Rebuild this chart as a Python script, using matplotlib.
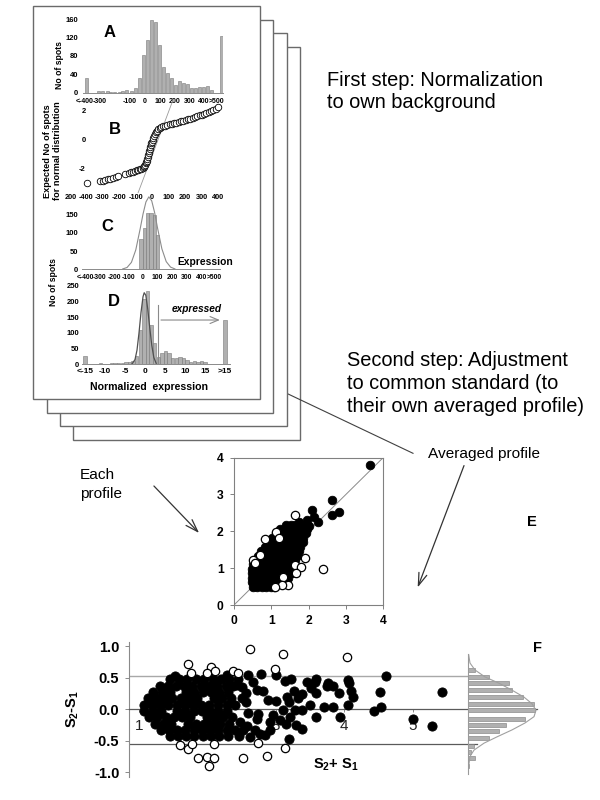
import matplotlib
matplotlib.use('Agg')
import matplotlib.pyplot as plt
from matplotlib.patches import Rectangle
from matplotlib.ticker import FormatStrFormatter

plt.rcParams['font.family'] = ['Liberation Sans', 'DejaVu Sans']
plt.rcParams['axes.unicode_minus'] = False
plt.rcParams['mathtext.default'] = 'regular'

# ---------------- data ----------------
# Panel A: raw expression histogram
a_x = [-393, -307, -280, -253, -227, -200, -173, -147, -120, -93, -64, -38, -11, 16, 42, 69, 96,
       122, 149, 176, 202, 229, 256, 282, 309, 336, 362, 389, 416, 442, 511]
a_h = [33, 4, 3, 4, 2, 2, 2, 4, 6, 4, 10, 32, 82, 115, 158, 154, 105, 55, 44, 31, 17, 26, 22, 19,
       10, 11, 12, 13, 14, 6, 124]
a_ticks = [-400, -300, -100, 0, 100, 200, 300, 390, 480]
a_ticklabels = ['<-400', '-300', '-100', '0', '100', '200', '300', '400', '>500']

# Panel B: normal probability plot
b_x = [-395, -318, -300, -285, -268, -252, -236, -220, -205, -165, -140, -128, -115, -103, -92, -82,
       -72, -64, -57, -51, -46, -42, -38, -35, -32, -29, -26, -23, -20, -17, -14, -11, -8, -5, -1,
       3, 7, 12, 17, 23, 30, 38, 47, 57, 68, 80, 93, 106, 120, 134, 148, 162, 176, 190, 204, 218,
       232, 246, 260, 274, 288, 302, 316, 330, 344, 358, 372, 386, 400]
b_y = [-2.95, -2.83, -2.80, -2.76, -2.72, -2.68, -2.62, -2.57, -2.50, -2.33, -2.25, -2.21, -2.18,
       -2.14, -2.10, -2.06, -2.02, -1.98, -1.93, -1.87, -1.80, -1.72, -1.62, -1.52, -1.42, -1.30,
       -1.18, -1.05, -0.92, -0.78, -0.64, -0.50, -0.37, -0.24, -0.11, 0.02, 0.15, 0.28, 0.40, 0.52,
       0.63, 0.73, 0.81, 0.88, 0.94, 0.99, 1.03, 1.07, 1.12, 1.16, 1.20, 1.24, 1.28, 1.33, 1.38,
       1.43, 1.48, 1.53, 1.58, 1.63, 1.69, 1.74, 1.80, 1.86, 1.93, 1.99, 2.06, 2.14, 2.25]
b_ref_x = [-85, 127]
b_ref_y = [-3.66, 2.76]
b_ticks = [-490, -400, -300, -200, -100, 0, 100, 200, 300, 400]
b_ticklabels = ['200', '-400', '-300', '-200', '-100', '0', '100', '200', '300', '400']

# Panel C: background histogram with normal fit
c_x = [-14, 9, 32, 55, 78, 101]
c_h = [83, 114, 155, 155, 148, 95]
c_curve_x = [-140, -110, -80, -50, -20, 0, 20, 40, 60, 80, 100, 130, 160, 190, 220]
c_curve_y = [1, 5, 19, 53, 110, 151, 184, 198, 187, 155, 113, 56, 21, 6, 1]
c_ticks = [-400, -300, -200, -100, 0, 100, 200, 300, 400, 490]
c_ticklabels = ['<-400', '-300', '-200', '-100', '0', '100', '200', '300', '400', '>500']

# Panel D: normalized expression histogram
d_x = [-15, -13.8, -12.9, -12.0, -11.1, -10.2, -9.3, -8.4, -7.5, -6.6, -5.7, -4.8, -3.9, -3.0,
       -2.1, -1.2, -0.3, 0.6, 1.5, 2.4, 3.3, 4.2, 5.1, 6.0, 6.9, 7.8, 8.7, 9.6, 10.5, 11.4, 12.3,
       13.2, 14.1, 15.0, 20]
d_h = [28, 2, 1, 0, 3, 2, 2, 3, 4, 4, 5, 6, 8, 10, 28, 109, 207, 232, 125, 69, 24, 35, 42, 35, 20,
       19, 24, 19, 14, 8, 12, 8, 11, 6, 140]
d_curve_x = [-3.2, -2.5, -2.0, -1.5, -1.0, -0.5, -0.2, 0.2, 0.7, 1.2, 1.7, 2.2, 2.8]
d_curve_y = [2, 15, 45, 100, 165, 215, 228, 220, 175, 115, 60, 22, 3]
d_threshold = 3.3
d_ticks = [-15, -10, -5, 0, 5, 10, 15, 20]
d_ticklabels = ['<-15', '-10', '-5', '0', '5', '10', '15', '>15']

# Panel E: each profile vs averaged profile
e_fill_x = [0.50, 0.62, 0.74, 0.86, 0.98, 1.06,
            0.48, 0.60, 0.72, 0.84, 0.96, 1.08, 1.20, 1.30,
            0.48, 0.60, 0.72, 0.84, 0.96, 1.08, 1.20, 1.32, 1.44,
            0.48, 0.60, 0.72, 0.84, 0.96, 1.08, 1.20, 1.32, 1.44, 1.56,
            0.48, 0.60, 0.72, 0.84, 0.96, 1.08, 1.20, 1.32, 1.44, 1.56,
            0.50, 0.62, 0.74, 0.86, 0.98, 1.10, 1.22, 1.34, 1.46, 1.58,
            0.56, 0.68, 0.80, 0.92, 1.04, 1.16, 1.28, 1.40, 1.52, 1.64,
            0.64, 0.76, 0.88, 1.00, 1.12, 1.24, 1.36, 1.48, 1.60, 1.70,
            0.72, 0.84, 0.96, 1.08, 1.20, 1.32, 1.44, 1.56, 1.68, 1.74,
            0.82, 0.94, 1.06, 1.18, 1.30, 1.42, 1.54, 1.66, 1.78,
            0.92, 1.04, 1.16, 1.28, 1.40, 1.52, 1.64, 1.76, 1.85,
            1.02, 1.14, 1.26, 1.38, 1.50, 1.62, 1.74, 1.86,
            1.12, 1.24, 1.36, 1.48, 1.60, 1.72, 1.84, 1.92,
            1.24, 1.36, 1.48, 1.60, 1.72, 1.84, 1.95,
            1.40, 1.52, 1.64, 1.76, 1.86,
            3.65, 2.62, 2.62, 2.82, 2.08, 2.13, 2.26, 1.95, 1.75, 2.00]
e_fill_y = [0.50, 0.50, 0.50, 0.50, 0.50, 0.50,
            0.62, 0.62, 0.62, 0.62, 0.62, 0.62, 0.62, 0.62,
            0.74, 0.74, 0.74, 0.74, 0.74, 0.74, 0.74, 0.74, 0.74,
            0.86, 0.86, 0.86, 0.86, 0.86, 0.86, 0.86, 0.86, 0.86, 0.86,
            0.98, 0.98, 0.98, 0.98, 0.98, 0.98, 0.98, 0.98, 0.98, 0.98,
            1.10, 1.10, 1.10, 1.10, 1.10, 1.10, 1.10, 1.10, 1.10, 1.10,
            1.22, 1.22, 1.22, 1.22, 1.22, 1.22, 1.22, 1.22, 1.22, 1.22,
            1.34, 1.34, 1.34, 1.34, 1.34, 1.34, 1.34, 1.34, 1.34, 1.34,
            1.46, 1.46, 1.46, 1.46, 1.46, 1.46, 1.46, 1.46, 1.46, 1.46,
            1.58, 1.58, 1.58, 1.58, 1.58, 1.58, 1.58, 1.58, 1.58,
            1.70, 1.70, 1.70, 1.70, 1.70, 1.70, 1.70, 1.70, 1.70,
            1.82, 1.82, 1.82, 1.82, 1.82, 1.82, 1.82, 1.82,
            1.94, 1.94, 1.94, 1.94, 1.94, 1.94, 1.94, 1.94,
            2.06, 2.06, 2.06, 2.06, 2.06, 2.06, 2.06,
            2.18, 2.18, 2.18, 2.18, 2.18,
            3.79, 2.86, 2.44, 2.53, 2.57, 2.39, 2.26, 2.30, 2.25, 2.15]
e_open_x = [1.635, 1.126, 0.84, 1.20, 0.50, 0.70, 0.56, 1.90, 1.635, 1.79, 1.66, 2.39, 1.32, 1.46,
            1.28, 1.10]
e_open_y = [2.44, 1.99, 1.80, 1.83, 1.22, 1.355, 1.13, 1.265, 1.08, 1.04, 0.86, 0.97, 0.77, 0.54,
            0.54, 0.50]
e_diag = [0, 4]
e_ticks = [0, 1, 2, 3, 4]

# Panel F: difference vs sum
f_fill_x = [1.46, 1.58, 1.70, 1.83, 1.95, 2.08, 2.20, 2.32,
            1.30, 1.42, 1.54, 1.66, 1.78, 1.90, 2.02, 2.14, 2.27, 2.38,
            1.21, 1.33, 1.45, 1.69, 1.81, 1.93, 2.05, 2.17, 2.30,
            1.13, 1.25, 1.37, 1.49, 1.61, 1.73, 1.85, 2.09, 2.21, 2.34,
            1.07, 1.19, 1.31, 1.43, 1.55, 1.67, 1.79, 1.91, 2.03, 2.15, 2.28, 2.40,
            1.08, 1.20, 1.32, 1.56, 1.68, 1.80, 1.92, 2.04, 2.16, 2.29,
            1.15, 1.27, 1.39, 1.51, 1.63, 1.75, 1.99, 2.11, 2.23, 2.36,
            1.23, 1.35, 1.47, 1.71, 1.83, 1.95, 2.07, 2.19, 2.31,
            1.32, 1.44, 1.56, 1.68, 1.80, 1.92, 2.04, 2.16, 2.28, 2.40,
            1.45, 1.57, 1.69, 1.81, 1.93, 2.05, 2.17, 2.30,
            1.53, 2.28, 2.45, 2.60, 2.79, 3.00, 3.13, 3.23, 2.67, 2.72, 2.82, 2.89, 3.00, 3.26,
            3.16, 3.19, 3.33, 3.11, 3.28, 2.74, 2.72, 2.96, 2.92, 3.06, 3.15, 3.21, 3.30, 3.19,
            2.92, 2.77, 2.70, 2.84, 2.60, 2.56, 2.50, 2.57, 2.50, 2.43, 2.48, 2.52, 2.58, 2.46,
            2.62,
            3.39, 3.38, 3.50, 3.39, 3.46, 3.52, 3.57, 3.59, 3.59, 3.59, 3.70, 3.75, 3.77, 3.84,
            3.84, 3.92, 3.94, 4.05, 4.06, 4.07, 4.10, 4.13, 4.44, 4.53, 4.54, 4.61, 5.00, 5.29,
            5.43]
f_fill_y = [0.47, 0.47, 0.47, 0.47, 0.47, 0.47, 0.47, 0.47,
            0.37, 0.37, 0.37, 0.37, 0.37, 0.37, 0.37, 0.37, 0.37, 0.37,
            0.27, 0.27, 0.27, 0.27, 0.27, 0.27, 0.27, 0.27, 0.27,
            0.17, 0.17, 0.17, 0.17, 0.17, 0.17, 0.17, 0.17, 0.17, 0.17,
            0.07, 0.07, 0.07, 0.07, 0.07, 0.07, 0.07, 0.07, 0.07, 0.07, 0.07, 0.07,
            -0.03, -0.03, -0.03, -0.03, -0.03, -0.03, -0.03, -0.03, -0.03, -0.03,
            -0.13, -0.13, -0.13, -0.13, -0.13, -0.13, -0.13, -0.13, -0.13, -0.13,
            -0.23, -0.23, -0.23, -0.23, -0.23, -0.23, -0.23, -0.23, -0.23,
            -0.33, -0.33, -0.33, -0.33, -0.33, -0.33, -0.33, -0.33, -0.33, -0.33,
            -0.43, -0.43, -0.43, -0.43, -0.43, -0.43, -0.43, -0.43,
            0.52, 0.54, 0.47, 0.54, 0.55, 0.54, 0.45, 0.47, 0.43, 0.30, 0.29, 0.14, 0.13, 0.29,
            0.19, 0.12, 0.17, -0.01, -0.01, -0.08, -0.15, -0.09, -0.20, -0.17, -0.24, -0.12, -0.25,
            -0.48, -0.33, -0.39, -0.33, -0.41, -0.06, 0.11, 0.18, 0.25, 0.35, 0.38, -0.20, -0.33,
            -0.26, -0.42, -0.45,
            0.24, -0.01, 0.06, -0.32, 0.43, 0.33, 0.43, 0.47, 0.26, -0.12, 0.04, 0.37, 0.42, 0.36,
            0.04, 0.25, -0.13, 0.06, 0.46, 0.41, 0.29, 0.19, -0.03, 0.27, 0.04, 0.52, -0.16, -0.27,
            0.27]
f_open_x = [1.72, 1.76, 2.05, 1.99, 2.11, 2.63, 2.37, 2.45, 3.10, 2.99, 1.60, 1.72, 1.77, 1.86,
            1.99, 2.03, 2.10, 2.09, 2.52, 2.74, 2.87, 3.14, 4.04]
f_open_y = [0.71, 0.58, 0.67, 0.58, 0.60, 0.95, 0.61, 0.58, 0.88, 0.63, -0.57, -0.64, -0.55, -0.78,
            -0.76, -0.90, -0.78, -0.56, -0.78, -0.53, -0.74, -0.62, 0.82]
f_upper = 0.52
f_lower = -0.56
f_ticks_x = [1, 2, 3, 4, 5]
f_ticks_y = [-1.0, -0.5, 0.0, 0.5, 1.0]
f_hist_y = [0.62, 0.51, 0.41, 0.30, 0.195, 0.08, -0.016, -0.15, -0.25, -0.35, -0.455, -0.58,
            -0.68, -0.77, -0.90]
f_hist_n = [7, 21, 41, 44, 55, 66, 67, 57, 38, 31, 21, 6, 3, 7, 1]
f_curve_y = [0.86, 0.73, 0.62, 0.51, 0.41, 0.30, 0.19, 0.085, -0.02, -0.12, -0.22, -0.33, -0.44,
             -0.54, -0.65, -0.75, -0.90]
f_curve_n = [0.7, 2, 7, 17, 31, 44, 56, 64, 68, 66, 57, 44, 29, 16, 6, 2, 0.7]

# ---------------- layout helpers ----------------
W, H = 600, 800
fig = plt.figure(figsize=(6, 8), dpi=100, facecolor='white')


def ax_px(x0, y0, x1, y1, z=5):
    a = fig.add_axes([x0 / W, 1 - y1 / H, (x1 - x0) / W, (y1 - y0) / H], zorder=z)
    a.set_facecolor('none')
    return a


BAR_FC = '#b0b0b0'
BAR_EC = '#787878'

# ---------------- background: stacked pages, texts, arrows ----------------
bg = fig.add_axes([0, 0, 1, 1], zorder=0)
bg.set_xlim(0, W)
bg.set_ylim(H, 0)
bg.axis('off')
pages = [(73, 47, 300, 440), (60, 33, 287, 426), (47, 20, 273, 413), (33, 6, 260, 399)]
for i, (x0, y0, x1, y1) in enumerate(pages):
    bg.add_patch(Rectangle((x0, y0), x1 - x0, y1 - y0, facecolor='white',
                           edgecolor='#6a6a6a', lw=1.0, zorder=1 + i))
    if i == 0:
        bg.plot([270, 413], [385.4, 453.3], color='#404040', lw=0.8, zorder=1.5)

BIG = 14.4
bg.text(326.7, 80, 'First step: Normalization', fontsize=BIG, va='center', ha='left')
bg.text(326.7, 103, 'to own background', fontsize=BIG, va='center', ha='left')
bg.text(346.7, 360, 'Second step: Adjustment', fontsize=BIG, va='center', ha='left')
bg.text(346.7, 383.3, 'to common standard (to', fontsize=BIG, va='center', ha='left')
bg.text(346.7, 406.7, 'their own averaged profile)', fontsize=BIG, va='center', ha='left')
bg.text(428, 454, 'Averaged profile', fontsize=11.1, va='center', ha='left')
bg.text(80, 475, 'Each', fontsize=11.1, va='center', ha='left')
bg.text(80, 494, 'profile', fontsize=11.1, va='center', ha='left')
bg.annotate('', xy=(416.7, 590), xytext=(465, 463),
            arrowprops=dict(arrowstyle='->,head_length=0.9,head_width=0.3', color='#333333', lw=0.9))
bg.annotate('', xy=(201, 535), xytext=(152, 484),
            arrowprops=dict(arrowstyle='->,head_length=0.9,head_width=0.3', color='#333333', lw=0.9))

for lab, (x, y) in zip('ABCD', [(109.7, 32.5), (115, 129), (107.5, 226.7), (114, 301.7)]):
    bg.text(x, y, lab, fontsize=12, fontweight='bold', ha='center', va='center', zorder=10)
bg.text(60, 65, 'No of spots', fontsize=6.2, fontweight='bold', rotation=90, ha='center',
        va='center', zorder=10)
bg.text(48, 151, 'Expected No of spots', fontsize=6.6, fontweight='bold', rotation=90,
        ha='center', va='center', zorder=10)
bg.text(58, 151, 'for normal distribution', fontsize=6.6, fontweight='bold', rotation=90,
        ha='center', va='center', zorder=10)
bg.text(53, 282, 'No of spots', fontsize=6.2, fontweight='bold', rotation=90, ha='center',
        va='center', zorder=10)
bg.text(233, 262, 'Expression', fontsize=7.4, fontweight='bold', ha='right', va='center', zorder=10)
bg.text(172, 309.3, 'expressed', fontsize=7.3, fontweight='bold', style='italic', ha='left',
        va='center', zorder=10)
bg.text(148.5, 387, 'Normalized  expression', fontsize=7.6, fontweight='bold', ha='center',
        va='center', zorder=10)
bg.text(531.7, 521.7, 'E', fontsize=10.5, fontweight='bold', ha='center', va='center')
bg.text(537.3, 648.3, 'F', fontsize=10.5, fontweight='bold', ha='center', va='center')
bg.text(73, 709, 'S$_2$-S$_1$', fontsize=10.5, fontweight='bold', rotation=90, ha='center',
        va='center')
bg.text(336, 765, 'S$_2$+ S$_1$', fontsize=10.5, fontweight='bold', ha='center', va='center')


def small_style(ax, size=5.3):
    for s in ['top', 'right', 'left']:
        ax.spines[s].set_visible(False)
    ax.spines['bottom'].set_color('#8a8a8a')
    ax.spines['bottom'].set_linewidth(0.7)
    ax.tick_params(axis='both', length=0, labelsize=size)
    for t in ax.get_xticklabels() + ax.get_yticklabels():
        t.set_fontweight('bold')


# ---------------- Panel A ----------------
axA = ax_px(83, 19.3, 223, 92.7)
axA.bar(a_x, a_h, width=20, color=BAR_FC, edgecolor=BAR_EC, linewidth=0.4)
axA.set_xlim(-413, 520)
axA.set_ylim(0, 160)
axA.set_yticks([0, 40, 80, 120, 160])
axA.set_xticks(a_ticks)
axA.set_xticklabels(a_ticklabels)
small_style(axA, 5.0)
axA.tick_params(axis='y', labelsize=5.5, pad=3.4)
axA.tick_params(axis='x', pad=3.5)

# ---------------- Panel B ----------------
axB = ax_px(69.5, 99.4, 223, 192.9)
axB.plot(b_ref_x, b_ref_y, color='#9a9a9a', lw=0.6, zorder=1)
axB.scatter(b_x, b_y, s=22, facecolors='white', edgecolors='black', linewidths=0.6, zorder=2)
axB.set_xlim(-500, 430)
axB.set_ylim(-3.65, 2.8)
axB.set_xticks(b_ticks)
axB.set_xticklabels(b_ticklabels)
axB.set_yticks([-2, 0, 2])
for s in ['top', 'right', 'bottom']:
    axB.spines[s].set_visible(False)
axB.spines['left'].set_position(('data', -390))
axB.spines['left'].set_color('none')
axB.tick_params(axis='both', length=0, labelsize=5.3)
axB.tick_params(axis='x', pad=0.8)
axB.tick_params(axis='y', pad=1.5, labelsize=5.5)
for t in axB.get_xticklabels() + axB.get_yticklabels():
    t.set_fontweight('bold')

# ---------------- Panel C ----------------
axC = ax_px(82, 196.1, 220, 269.3)
axC.bar(c_x, c_h, width=22, color=BAR_FC, edgecolor=BAR_EC, linewidth=0.4)
axC.plot(c_curve_x, c_curve_y, color='#8c8c8c', lw=0.8)
axC.set_xlim(-421, 531)
axC.set_ylim(0, 200)
axC.set_yticks([0, 50, 100, 150])
axC.set_xticks(c_ticks)
axC.set_xticklabels(c_ticklabels)
small_style(axC, 4.9)
axC.tick_params(axis='y', labelsize=5.5, pad=2.7)
axC.tick_params(axis='x', pad=3.3)

# ---------------- Panel D ----------------
axD = ax_px(82, 285.8, 230, 364.3)
axD.bar(d_x, d_h, width=0.85, color=BAR_FC, edgecolor=BAR_EC, linewidth=0.4)
axD.plot(d_curve_x, d_curve_y, color='#505050', lw=0.9)
axD.plot([d_threshold, d_threshold], [2, 189], color='#8a8a8a', lw=0.8)
axD.annotate('', xy=(19.4, 141), xytext=(d_threshold, 141),
             arrowprops=dict(arrowstyle='->,head_length=0.6,head_width=0.25', color='#8a8a8a',
                             lw=0.8))
axD.set_xlim(-15.75, 21.25)
axD.set_ylim(0, 250)
axD.set_yticks([0, 50, 100, 150, 200, 250])
axD.set_xticks(d_ticks)
axD.set_xticklabels(d_ticklabels)
small_style(axD, 5.5)
axD.tick_params(axis='x', labelsize=6)
axD.tick_params(axis='y', pad=2)
axD.tick_params(axis='x', pad=3)

# ---------------- Panel E ----------------
axE = ax_px(234, 457.5, 383.3, 605)
axE.plot(e_diag, e_diag, color='#8a8a8a', lw=0.7, zorder=1)
axE.scatter(e_fill_x, e_fill_y, s=38, color='black', edgecolors='black', linewidths=0.6, zorder=2)
axE.scatter(e_open_x, e_open_y, s=36, facecolors='white', edgecolors='black', linewidths=0.9,
            zorder=3)
axE.set_xlim(0, 4)
axE.set_ylim(0, 4)
axE.set_xticks(e_ticks)
axE.set_yticks(e_ticks)
for s in axE.spines.values():
    s.set_color('#808080')
    s.set_linewidth(0.8)
axE.tick_params(axis='both', length=3, width=0.7, color='#808080', labelsize=8.7, pad=4.5)
for t in axE.get_xticklabels() + axE.get_yticklabels():
    t.set_fontweight('bold')

# ---------------- Panel F ----------------
axF = ax_px(129, 641.6, 540, 776.6)
x_lo, x_hi = 0.854, 6.864
axF.plot([x_lo, 5.84], [f_upper, f_upper], color='#a8a8a8', lw=1.0, zorder=1)
axF.plot([x_lo, 5.94], [f_lower, f_lower], color='#5a5a5a', lw=0.9, zorder=1)
axF.scatter(f_fill_x, f_fill_y, s=44, color='black', edgecolors='black', linewidths=0.6, zorder=3)
axF.scatter(f_open_x, f_open_y, s=36, facecolors='white', edgecolors='black', linewidths=0.9,
            zorder=4)
axF.set_xlim(x_lo, x_hi)
axF.set_ylim(-1.07, 1.07)
axF.spines['top'].set_visible(False)
axF.spines['right'].set_visible(False)
axF.spines['bottom'].set_position(('data', 0))
axF.spines['bottom'].set_bounds(x_lo, 6.82)
axF.spines['bottom'].set_color('#5a5a5a')
axF.spines['bottom'].set_linewidth(0.9)
axF.spines['left'].set_color('#8a8a8a')
axF.spines['left'].set_linewidth(0.8)
axF.set_xticks(f_ticks_x)
axF.set_yticks(f_ticks_y)
axF.yaxis.set_major_formatter(FormatStrFormatter('%.1f'))
axF.tick_params(axis='y', length=3, width=0.7, color='#8a8a8a', labelsize=10.5, pad=4)
axF.tick_params(axis='x', length=2, width=0.7, color='#8a8a8a', labelsize=11, pad=4.8,
                labelcolor='#222222')
for t in axF.get_yticklabels():
    t.set_fontweight('bold')

# side histogram
axH = ax_px(468, 641.6, 545, 776.6, z=6)
axH.barh(f_hist_y, f_hist_n, height=0.065, color=BAR_FC, edgecolor=BAR_EC, linewidth=0.4)
axH.plot(f_curve_n, f_curve_y, color='#a0a0a0', lw=0.8)
axH.set_xlim(0, 77)
axH.set_ylim(-1.07, 1.07)
for s in ['top', 'right', 'bottom']:
    axH.spines[s].set_visible(False)
axH.spines['left'].set_color('#9a9a9a')
axH.spines['left'].set_linewidth(0.8)
axH.spines['left'].set_bounds(-1.03, 0.87)
axH.set_xticks([])
axH.set_yticks([])

fig.savefig('out.png', dpi=100, facecolor='white')
